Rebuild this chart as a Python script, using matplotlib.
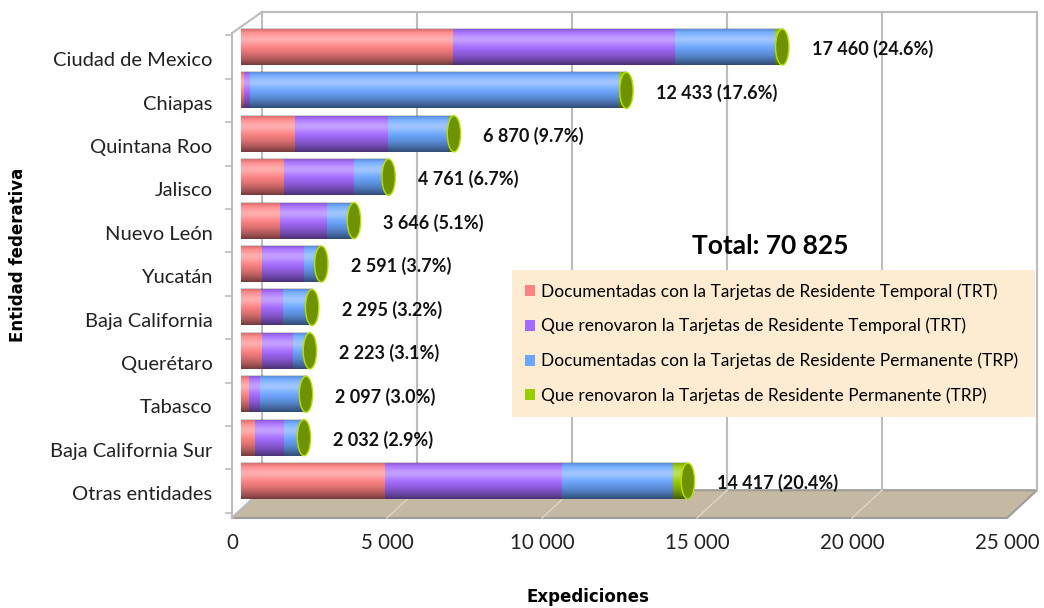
import numpy as np
import matplotlib.pyplot as plt
from matplotlib.patches import Ellipse, Polygon, Patch

# Datos (expediciones por entidad federativa)
entidades = ["Ciudad de Mexico", "Chiapas", "Quintana Roo", "Jalisco", "Nuevo León",
             "Yucatán", "Baja California", "Querétaro", "Tabasco",
             "Baja California Sur", "Otras entidades"]
doc_trt = [6850, 110, 1750, 1400, 1270, 690, 640, 690, 260, 450, 4650]
ren_trt = [7150, 190, 3000, 2230, 1520, 1350, 730, 980, 360, 940, 5700]
doc_trp = [3210, 11880, 1950, 1010, 760, 490, 870, 500, 1420, 590, 3600]
ren_trp = [250, 253, 170, 121, 96, 61, 55, 53, 57, 52, 467]
porcentajes = [24.6, 17.6, 9.7, 6.7, 5.1, 3.7, 3.2, 3.1, 3.0, 2.9, 20.4]
total_general = 70825
ticks_x = [0, 5000, 10000, 15000, 20000, 25000]

nombres_series = ["Documentadas con la Tarjetas de Residente Temporal (TRT)",
                  "Que renovaron la Tarjetas de Residente Temporal (TRT)",
                  "Documentadas con la Tarjetas de Residente Permanente (TRP)",
                  "Que renovaron la Tarjetas de Residente Permanente (TRP)"]
colores = ["#ff8283", "#a56bff", "#6ca7ff", "#9bcc00"]


def miles(v):
    # separador de miles con espacio
    return f"{v:,}".replace(",", " ")


plt.rcParams['font.family'] = ['Lato', 'DejaVu Sans']

# desplazamientos para simular la profundidad 3D
frente = -290
fondo = 677
y_techo = -0.806
y_pared = -0.32
y_piso_atras = 10.21
y_piso_frente = 10.85
gris = "#bcbcbc"

fig = plt.figure(figsize=(10.44, 6.08), dpi=100)
ax = fig.add_axes([232 / 1044, 90 / 608, 784 / 1044, 506 / 608])

# piso
piso = Polygon([(frente, y_piso_frente), (ticks_x[-1] + frente, y_piso_frente),
                (ticks_x[-1] + fondo, y_piso_atras), (fondo, y_piso_atras)],
               closed=True, facecolor="#c5b9a4", edgecolor="#9c9c9c", lw=1.5,
               clip_on=False, zorder=1)
ax.add_patch(piso)
for v in ticks_x[1:-1]:
    ax.plot([v + frente, v + fondo], [y_piso_frente, y_piso_atras], color="#ddd5c8",
            lw=1, clip_on=False, zorder=1.5)

# pared del fondo y lineas de cuadricula
ax.plot([fondo, ticks_x[-1] + fondo], [y_techo, y_techo], color=gris, lw=1.5, clip_on=False, zorder=1)
for v in ticks_x:
    ax.plot([v + fondo, v + fondo], [y_techo, y_piso_atras], color=gris, lw=1.5, clip_on=False, zorder=1)
# pared izquierda
ax.plot([frente, fondo], [y_pared, y_techo], color=gris, lw=1.5, clip_on=False, zorder=1)
ax.plot([frente, frente], [y_pared, y_piso_frente], color=gris, lw=1.5, clip_on=False, zorder=1)
ax.plot([frente, fondo], [y_piso_frente, y_piso_atras], color=gris, lw=1.5, clip_on=False, zorder=1)
# marcas pequeñas entre categorias
for k in range(len(entidades) + 1):
    ax.plot([frente - 200, frente], [k - 0.27, k - 0.27], color=gris, lw=1.2, clip_on=False, zorder=1)

# barras apiladas
alto = 0.83
posiciones = np.arange(len(entidades))
series = [doc_trt, ren_trt, doc_trp, ren_trp]
izquierda = np.zeros(len(entidades))
for datos, color in zip(series, colores):
    ax.barh(posiciones, datos, height=alto, left=izquierda, color=color, zorder=3)
    izquierda = izquierda + np.array(datos)
totales = izquierda

# sombreado cilindrico
t = np.linspace(0, 1, 80)
a_blanco = 0.35 * np.exp(-((t - 0.3) / 0.16) ** 2)
a_negro = 0.55 * np.clip((t - 0.45) / 0.55, 0, 1) ** 1.6 + 0.2 * np.clip((0.12 - t) / 0.12, 0, 1)
capa_blanca = np.zeros((80, 1, 4))
capa_blanca[:, 0, :3] = 1
capa_blanca[:, 0, 3] = a_blanco
capa_negra = np.zeros((80, 1, 4))
capa_negra[:, 0, 3] = a_negro

for i, tot in enumerate(totales):
    ext = (0, tot, i + alto / 2, i - alto / 2)
    ax.imshow(capa_blanca, extent=ext, aspect="auto", interpolation="bilinear", zorder=4)
    ax.imshow(capa_negra, extent=ext, aspect="auto", interpolation="bilinear", zorder=4)
    tapa = Ellipse((tot, i), width=430, height=alto, facecolor="#6f9200",
                   edgecolor="#b5e000", lw=1, zorder=5)
    ax.add_patch(tapa)
    ax.text(tot + 950, i + 0.05, f"{miles(int(tot))} ({porcentajes[i]:.1f}%)",
            ha="left", va="center", fontsize=13, fontweight="bold", color="#111111", zorder=6)

ax.text(17065, 4.585, f"Total: {miles(total_general)}", ha="center", va="center",
        fontsize=19, fontweight="bold", color="black", zorder=6)

# ejes
ax.set_xticks([v + frente for v in ticks_x])
ax.set_xticklabels([miles(v) for v in ticks_x])
ax.set_yticks(posiciones + 0.28)
ax.set_yticklabels(entidades)
ax.tick_params(axis="x", length=0, pad=11, labelsize=14.8, colors="#222222")
ax.tick_params(axis="y", length=0, pad=14, labelsize=14.5, colors="#222222")
for s in ax.spines.values():
    s.set_visible(False)
ax.set_facecolor("none")
ax.set_xlim(frente, ticks_x[-1])
ax.set_ylim(y_piso_frente, y_techo)

fig.text(588 / 1044, 1 - 597 / 608, "Expediciones", ha="center", va="center",
         fontsize=12, fontweight="bold", family="DejaVu Sans")
fig.text(18 / 1044, 1 - 255 / 608, "Entidad federativa", ha="center", va="center",
         rotation=90, fontsize=12, fontweight="bold", family="DejaVu Sans")

# simbologia
manijas = [Patch(facecolor=c, edgecolor="none") for c in colores]
ley = fig.legend(manijas, nombres_series, loc="center left",
                 bbox_to_anchor=(512 / 1044, 1 - 422 / 608, 523 / 1044, 157 / 608),
                 bbox_transform=fig.transFigure, mode="expand", fontsize=12.5,
                 frameon=True, fancybox=False, facecolor="#fdecd1", edgecolor="none",
                 framealpha=1, handlelength=0.6, handleheight=0.6, handletextpad=0.3,
                 labelspacing=1.05, borderaxespad=0, borderpad=0.75)
ley.set_zorder(7)

fig.savefig("out.png", dpi=100)
